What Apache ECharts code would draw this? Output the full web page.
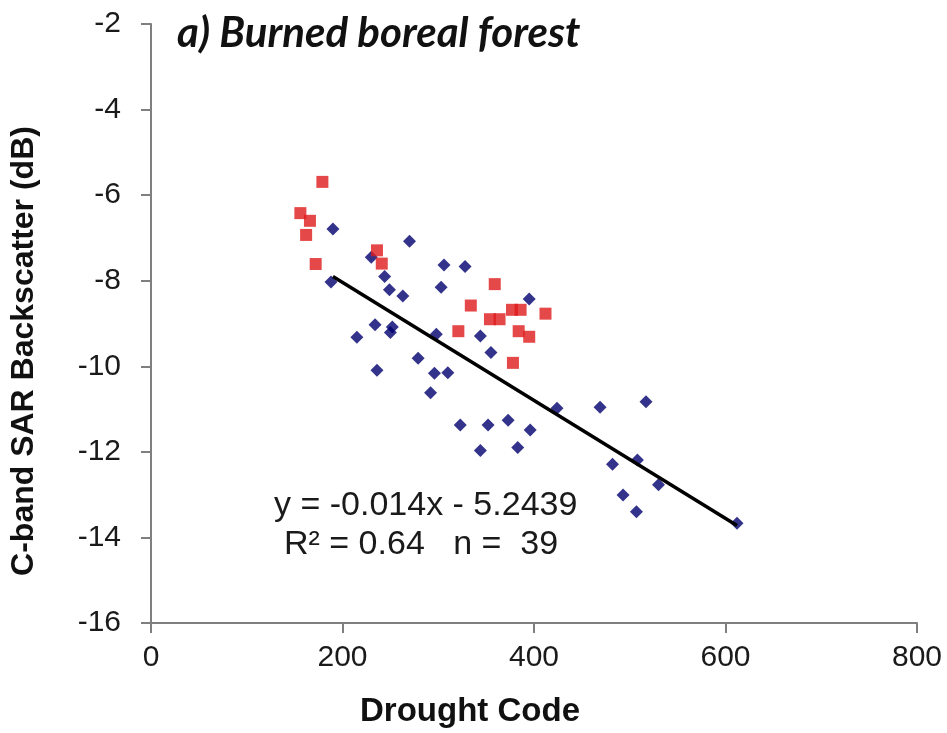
<!DOCTYPE html>
<html><head><meta charset="utf-8">
<script src="https://cdn.jsdelivr.net/npm/echarts@6/dist/echarts.min.js"></script>
<style>html,body{margin:0;padding:0;background:#fff}#c{width:947px;height:733px}</style>
</head><body><div id="c"></div>
<script>
// Blue diamonds (regression set)
const blueX = [190,188,270,244,249,263,306,328,303,395,344,298,234,252,250,215,355,279,236,296,310,292,424,323,352,373,396,344,383,469,517,482,508,530,493,507,612,230];
const blueY = [-6.79,-8.03,-7.08,-7.90,-8.21,-8.36,-7.63,-7.67,-8.15,-8.43,-9.29,-9.25,-9.03,-9.08,-9.21,-9.32,-9.68,-9.81,-10.09,-10.16,-10.15,-10.62,-10.98,-11.37,-11.37,-11.26,-11.49,-11.97,-11.90,-10.96,-10.83,-12.29,-12.19,-12.77,-13.01,-13.40,-13.67,-7.45];
// Red squares
const redX = [179,156,166,162,172,236,241,359,334,377,386,412,354,364,321,384,395,378];
const redY = [-5.69,-6.42,-6.60,-6.93,-7.61,-7.29,-7.60,-8.08,-8.58,-8.68,-8.68,-8.77,-8.90,-8.90,-9.18,-9.18,-9.31,-9.92];
// Trend line endpoints
const trendX = [190, 612];
const trendY = [-7.90, -13.72];
// Axis ticks
const xTicks = [0, 200, 400, 600, 800];
const yTicks = [-16, -14, -12, -10, -8, -6, -4, -2];
const titleText = 'a) Burned boreal forest';
const xName = 'Drought Code';
const yName = 'C-band SAR Backscatter (dB)';
const eqText = 'y = -0.014x - 5.2439';
const r2Text = 'R² = 0.64   n =  39';

const zip = (a, b) => a.map((v, i) => [v, b[i]]);
const chart = echarts.init(document.getElementById('c'));
const axisCol = '#7f7f7f';
chart.setOption({
  animation: false,
  backgroundColor: '#fff',
  grid: { left: 151, top: 24, right: 30, bottom: 110, containLabel: false },
  xAxis: {
    type: 'value', min: xTicks[0], max: xTicks[xTicks.length - 1], interval: 200,
    splitLine: { show: false },
    axisLine: { show: true, onZero: false, lineStyle: { color: axisCol, width: 2 } },
    axisTick: { show: true, length: 10, lineStyle: { color: axisCol, width: 2 } },
    axisLabel: { color: '#1a1a1a', fontSize: 30, fontFamily: 'Liberation Sans', margin: 20 }
  },
  yAxis: {
    type: 'value', min: yTicks[0], max: yTicks[yTicks.length - 1], interval: 2,
    splitLine: { show: false },
    axisLine: { show: true, onZero: false, lineStyle: { color: axisCol, width: 2 } },
    axisTick: { show: true, length: 10, lineStyle: { color: axisCol, width: 2 } },
    axisLabel: { color: '#1a1a1a', fontSize: 30, fontFamily: 'Liberation Sans', margin: 30 }
  },
  graphic: [
    { type: 'text', left: 177, top: 12, style: { text: titleText, font: 'italic bold 42px Lato', fill: '#111' } },
    { type: 'text', x: 470, y: 712, style: { text: xName, font: 'bold 33px "Liberation Sans"', fill: '#111', align: 'center', verticalAlign: 'middle' } },
    { type: 'text', x: 24, y: 351, rotation: Math.PI / 2, style: { text: yName, font: 'bold 32px "Liberation Sans"', fill: '#111', align: 'center', verticalAlign: 'middle' } },
    { type: 'text', left: 274, top: 489, style: { text: eqText, font: '34px "Liberation Sans"', fill: '#1a1a1a' } },
    { type: 'text', left: 284, top: 528, style: { text: r2Text, font: '34px "Liberation Sans"', fill: '#1a1a1a' } }
  ],
  series: [
    { type: 'scatter', name: 'blue', data: zip(blueX, blueY), symbol: 'diamond', symbolSize: 13,
      itemStyle: { color: '#00006e' }, z: 2 },
    { type: 'line', name: 'trend', data: zip(trendX, trendY), symbol: 'none',
      lineStyle: { color: '#000', width: 3.5 }, z: 3 },
    { type: 'scatter', name: 'red', data: zip(redX, redY), symbol: 'rect', symbolSize: 12,
      itemStyle: { color: '#de1a1c' }, z: 4 }
  ]
});
</script></body></html>
